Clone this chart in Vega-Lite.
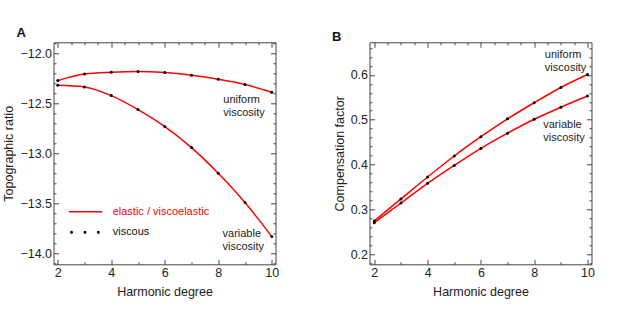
{
  "$schema": "https://vega.github.io/schema/vega-lite/v6.json",
  "padding": {"left": 2.5, "top": 26.3, "right": 5, "bottom": 5},
  "background": "white",
  "datasets": {
    "A": [
      {"degree": 2, "ratio": -12.27, "viscosity": "uniform"},
      {"degree": 3, "ratio": -12.204, "viscosity": "uniform"},
      {"degree": 4, "ratio": -12.187, "viscosity": "uniform"},
      {"degree": 5, "ratio": -12.18, "viscosity": "uniform"},
      {"degree": 6, "ratio": -12.19, "viscosity": "uniform"},
      {"degree": 7, "ratio": -12.217, "viscosity": "uniform"},
      {"degree": 8, "ratio": -12.257, "viscosity": "uniform"},
      {"degree": 9, "ratio": -12.31, "viscosity": "uniform"},
      {"degree": 10, "ratio": -12.387, "viscosity": "uniform"},
      {"degree": 2, "ratio": -12.317, "viscosity": "variable"},
      {"degree": 3, "ratio": -12.333, "viscosity": "variable"},
      {"degree": 4, "ratio": -12.42, "viscosity": "variable"},
      {"degree": 5, "ratio": -12.56, "viscosity": "variable"},
      {"degree": 6, "ratio": -12.73, "viscosity": "variable"},
      {"degree": 7, "ratio": -12.94, "viscosity": "variable"},
      {"degree": 8, "ratio": -13.197, "viscosity": "variable"},
      {"degree": 9, "ratio": -13.49, "viscosity": "variable"},
      {"degree": 10, "ratio": -13.83, "viscosity": "variable"}
    ],
    "B": [
      {"degree": 2, "factor": 0.274, "viscosity": "uniform"},
      {"degree": 3, "factor": 0.323, "viscosity": "uniform"},
      {"degree": 4, "factor": 0.372, "viscosity": "uniform"},
      {"degree": 5, "factor": 0.419, "viscosity": "uniform"},
      {"degree": 6, "factor": 0.462, "viscosity": "uniform"},
      {"degree": 7, "factor": 0.502, "viscosity": "uniform"},
      {"degree": 8, "factor": 0.538, "viscosity": "uniform"},
      {"degree": 9, "factor": 0.572, "viscosity": "uniform"},
      {"degree": 10, "factor": 0.601, "viscosity": "uniform"},
      {"degree": 2, "factor": 0.270, "viscosity": "variable"},
      {"degree": 3, "factor": 0.314, "viscosity": "variable"},
      {"degree": 4, "factor": 0.358, "viscosity": "variable"},
      {"degree": 5, "factor": 0.398, "viscosity": "variable"},
      {"degree": 6, "factor": 0.436, "viscosity": "variable"},
      {"degree": 7, "factor": 0.470, "viscosity": "variable"},
      {"degree": 8, "factor": 0.501, "viscosity": "variable"},
      {"degree": 9, "factor": 0.528, "viscosity": "variable"},
      {"degree": 10, "factor": 0.553, "viscosity": "variable"}
    ],
    "annA": [
      {"degree": 8.19, "ratio": -12.464, "label": ["uniform", "viscosity"]},
      {"degree": 8.16, "ratio": -13.804, "label": ["variable", "viscosity"]}
    ],
    "annB": [
      {"degree": 8.4, "factor": 0.645, "label": ["uniform", "viscosity"]},
      {"degree": 8.34, "factor": 0.489, "label": ["variable", "viscosity"]}
    ]
  },
  "config": {
    "view": {"stroke": null},
    "font": "Liberation Sans",
    "axis": {
      "labelFont": "Liberation Sans",
      "titleFont": "Liberation Sans",
      "labelFontSize": 12.5,
      "titleFontSize": 12.5,
      "titleFontWeight": "normal",
      "labelColor": "#222222",
      "titleColor": "#222222",
      "domainColor": "#444444",
      "tickColor": "#444444",
      "domainWidth": 1,
      "tickWidth": 1,
      "grid": false,
      "labelOverlap": false,
      "labelFlush": false,
      "labelPadding": 7,
      "titlePadding": 4
    },
    "title": {"font": "Liberation Sans", "fontSize": 13, "fontWeight": "bold", "color": "#111111"}
  },
  "spacing": 94,
  "bounds": "flush",
  "resolve": {"scale": {"color": "independent"}},
  "hconcat": [
    {
      "width": 222,
      "height": 222,
      "title": {"text": "A", "anchor": "start", "frame": "group", "dx": -37, "offset": 1, "dy": 3},
      "layer": [
        {
          "data": {"name": "A"},
          "mark": {"type": "line", "interpolate": "monotone", "strokeWidth": 1.5},
          "encoding": {
            "x": {
              "field": "degree", "type": "quantitative",
              "scale": {"domain": [1.84, 10.14], "nice": false, "zero": false},
              "axis": {
                "orient": "bottom", "title": "Harmonic degree",
                "values": [2, 2.5, 3, 3.5, 4, 4.5, 5, 5.5, 6, 6.5, 7, 7.5, 8, 8.5, 9, 9.5, 10],
                "labelExpr": "datum.value % 2 === 0 ? datum.label : ''",
                "format": "d",
                "tickSize": {"condition": {"test": "datum.value % 2 === 0", "value": -5}, "value": -2.5}
              }
            },
            "y": {
              "field": "ratio", "type": "quantitative",
              "scale": {"domain": [-14.107, -11.887], "nice": false, "zero": false},
              "axis": {
                "orient": "left", "title": "Topographic ratio", "format": ".1f",
                "values": [-14.1, -14.0, -13.9, -13.8, -13.7, -13.6, -13.5, -13.4, -13.3, -13.2, -13.1, -13.0, -12.9, -12.8, -12.7, -12.6, -12.5, -12.4, -12.3, -12.2, -12.1, -12.0, -11.9],
                "labelExpr": "abs(datum.value*2 - round(datum.value*2)) < 0.000001 ? datum.label : ''",
                "tickSize": {"condition": {"test": "abs(datum.value*2 - round(datum.value*2)) < 0.000001", "value": -5}, "value": -2.5}
              }
            },
            "detail": {"field": "viscosity"},
            "color": {
              "datum": "elastic / viscoelastic",
              "scale": {"domain": ["elastic / viscoelastic", "viscous"], "range": ["#ff0000", "#000000"]},
              "legend": {
                "title": null,
                "orient": "none",
                "legendX": 26.5,
                "legendY": 164,
                "padding": 0,
                "symbolType": "stroke",
                "symbolSize": 1110,
                "symbolStrokeWidth": 1.5,
                "labelFont": "Liberation Sans",
                "labelFontSize": 11,
                "labelOffset": 21.7,
                "rowPadding": 8.5,
                "encode": {
                  "symbols": {
                    "update": {
                      "stroke": {"signal": "datum.value === 'viscous' ? '#000000' : '#ff0000'"},
                      "strokeWidth": {"signal": "datum.value === 'viscous' ? 3 : 1.5"},
                      "strokeDash": {"signal": "datum.value === 'viscous' ? [0, 13.4] : [1, 0]"},
                      "strokeDashOffset": {"signal": "datum.value === 'viscous' ? 10.7 : 0"},
                      "strokeCap": {"signal": "datum.value === 'viscous' ? 'round' : 'butt'"},
                      "opacity": {"value": 1}
                    }
                  },
                  "labels": {
                    "update": {
                      "fill": {"signal": "datum.value === 'viscous' ? '#111111' : '#ff0000'"}
                    }
                  }
                }
              }
            }
          }
        },
        {
          "data": {"name": "A"},
          "mark": {"type": "point", "filled": true, "size": 9, "opacity": 1},
          "encoding": {
            "x": {
              "field": "degree", "type": "quantitative",
              "axis": {
                "orient": "top", "title": null, "labels": false,
                "values": [2, 2.5, 3, 3.5, 4, 4.5, 5, 5.5, 6, 6.5, 7, 7.5, 8, 8.5, 9, 9.5, 10],
                "tickSize": {"condition": {"test": "datum.value % 2 === 0", "value": -5}, "value": -2.5}
              }
            },
            "y": {
              "field": "ratio", "type": "quantitative",
              "axis": {
                "orient": "right", "title": null, "labels": false,
                "values": [-14.1, -14.0, -13.9, -13.8, -13.7, -13.6, -13.5, -13.4, -13.3, -13.2, -13.1, -13.0, -12.9, -12.8, -12.7, -12.6, -12.5, -12.4, -12.3, -12.2, -12.1, -12.0, -11.9],
                "tickSize": {"condition": {"test": "abs(datum.value*2 - round(datum.value*2)) < 0.000001", "value": -5}, "value": -2.5}
              }
            },
            "detail": {"field": "viscosity"},
            "color": {"datum": "viscous"}
          }
        },
        {
          "data": {"name": "annA"},
          "mark": {"type": "text", "align": "left", "baseline": "middle", "lineHeight": 13.5, "fontSize": 11, "font": "Liberation Sans", "color": "#222222"},
          "encoding": {
            "x": {"field": "degree", "type": "quantitative", "axis": null},
            "y": {"field": "ratio", "type": "quantitative", "axis": null},
            "text": {"field": "label"}
          }
        }
      ],
      "resolve": {"axis": {"x": "independent", "y": "independent"}}
    },
    {
      "width": 222,
      "height": 222,
      "title": {"text": "B", "anchor": "start", "frame": "group", "dx": -37.5, "offset": 1, "dy": 3},
      "layer": [
        {
          "data": {"name": "B"},
          "mark": {"type": "line", "interpolate": "monotone", "strokeWidth": 1.5, "color": "#ff0000"},
          "encoding": {
            "x": {
              "field": "degree", "type": "quantitative",
              "scale": {"domain": [1.82, 10.15], "nice": false, "zero": false},
              "axis": {
                "orient": "bottom", "title": "Harmonic degree",
                "values": [2, 2.5, 3, 3.5, 4, 4.5, 5, 5.5, 6, 6.5, 7, 7.5, 8, 8.5, 9, 9.5, 10],
                "labelExpr": "datum.value % 2 === 0 ? datum.label : ''",
                "format": "d",
                "tickSize": {"condition": {"test": "datum.value % 2 === 0", "value": -5}, "value": -2.5}
              }
            },
            "y": {
              "field": "factor", "type": "quantitative",
              "scale": {"domain": [0.177, 0.673], "nice": false, "zero": false},
              "axis": {
                "orient": "left", "title": "Compensation factor", "format": ".1f",
                "values": [0.18, 0.2, 0.22, 0.24, 0.26, 0.28, 0.3, 0.32, 0.34, 0.36, 0.38, 0.4, 0.42, 0.44, 0.46, 0.48, 0.5, 0.52, 0.54, 0.56, 0.58, 0.6, 0.62, 0.64, 0.66],
                "labelExpr": "abs(datum.value*10 - round(datum.value*10)) < 0.000001 ? datum.label : ''",
                "tickSize": {"condition": {"test": "abs(datum.value*10 - round(datum.value*10)) < 0.000001", "value": -5}, "value": -2.5}
              }
            },
            "detail": {"field": "viscosity"}
          }
        },
        {
          "data": {"name": "B"},
          "mark": {"type": "point", "filled": true, "size": 9, "opacity": 1, "color": "#000000"},
          "encoding": {
            "x": {
              "field": "degree", "type": "quantitative",
              "axis": {
                "orient": "top", "title": null, "labels": false,
                "values": [2, 2.5, 3, 3.5, 4, 4.5, 5, 5.5, 6, 6.5, 7, 7.5, 8, 8.5, 9, 9.5, 10],
                "tickSize": {"condition": {"test": "datum.value % 2 === 0", "value": -5}, "value": -2.5}
              }
            },
            "y": {
              "field": "factor", "type": "quantitative",
              "axis": {
                "orient": "right", "title": null, "labels": false,
                "values": [0.18, 0.2, 0.22, 0.24, 0.26, 0.28, 0.3, 0.32, 0.34, 0.36, 0.38, 0.4, 0.42, 0.44, 0.46, 0.48, 0.5, 0.52, 0.54, 0.56, 0.58, 0.6, 0.62, 0.64, 0.66],
                "tickSize": {"condition": {"test": "abs(datum.value*10 - round(datum.value*10)) < 0.000001", "value": -5}, "value": -2.5}
              }
            },
            "detail": {"field": "viscosity"}
          }
        },
        {
          "data": {"name": "annB"},
          "mark": {"type": "text", "align": "left", "baseline": "middle", "lineHeight": 13.5, "fontSize": 11, "font": "Liberation Sans", "color": "#222222"},
          "encoding": {
            "x": {"field": "degree", "type": "quantitative", "axis": null},
            "y": {"field": "factor", "type": "quantitative", "axis": null},
            "text": {"field": "label"}
          }
        }
      ],
      "resolve": {"axis": {"x": "independent", "y": "independent"}}
    }
  ]
}
